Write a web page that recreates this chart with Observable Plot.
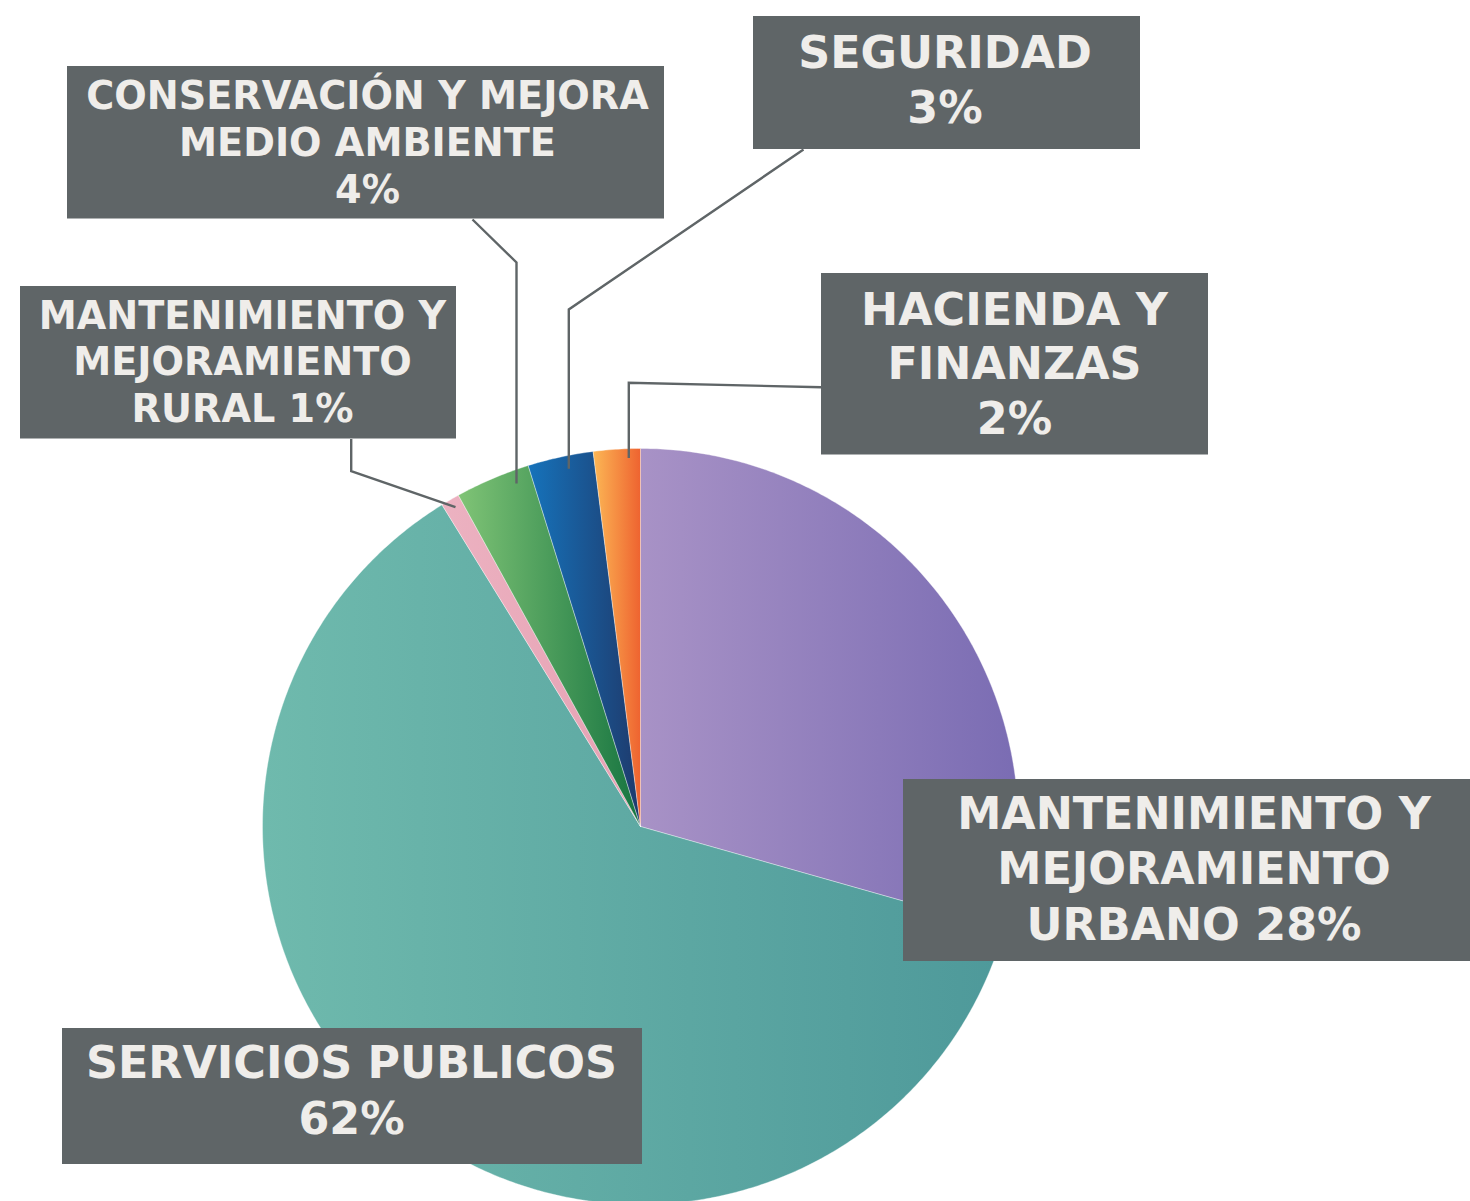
<!DOCTYPE html>
<html>
<head>
<meta charset="utf-8">
<script src="https://cdn.jsdelivr.net/npm/d3@7"></script>
<script src="https://cdn.jsdelivr.net/npm/@observablehq/plot@0.6"></script>
<style>
  html, body { margin: 0; padding: 0; background: #ffffff; overflow: hidden; }
  #chart svg { display: block; }
</style>
</head>
<body>
<div id="chart"></div>
<script>
// ---------- DATA ----------
const categories = [
  "MANTENIMIENTO Y MEJORAMIENTO URBANO",
  "SERVICIOS PUBLICOS",
  "MANTENIMIENTO Y MEJORAMIENTO RURAL",
  "CONSERVACIÓN Y MEJORA MEDIO AMBIENTE",
  "SEGURIDAD",
  "HACIENDA Y FINANZAS"
];
// share of the pie, clockwise from 12 o'clock
const shares = [29.4, 61.8, 0.8, 3.2, 2.8, 2.0];
// printed label text, line by line
const labelLines = [
  ["MANTENIMIENTO Y", "MEJORAMIENTO", "URBANO 28%"],
  ["SERVICIOS PUBLICOS", "62%"],
  ["MANTENIMIENTO Y", "MEJORAMIENTO", "RURAL 1%"],
  ["CONSERVACIÓN Y MEJORA", "MEDIO AMBIENTE", "4%"],
  ["SEGURIDAD", "3%"],
  ["HACIENDA Y", "FINANZAS", "2%"]
];

// ---------- STYLE / LAYOUT ----------
const W = 1470, H = 1201;
const pie = {cx: 640, cy: 826, r: 378};
const sliceGradients = [
  ["#a892c6", "#7a6cb3"],
  ["#6fbaad", "#4e999a"],
  ["#ecb2c1", "#e6a1b3"],
  ["#80c476", "#167440"],
  ["#1673bb", "#1e3a6c"],
  ["#fcb755", "#ee6330"]
];
const boxColor = "#5f6567";
const textColor = "#efedea";
const bigFont = 44.4, smallFont = 38.2;
const boxes = [
  {x1: 903, x2: 1470, y1: 779, y2: 961,  tx: 1193.5, base: 828,   lh: 55.5, size: bigFont},
  {x1: 62,  x2: 642,  y1: 1028, y2: 1164, tx: 351,   base: 1077.5, lh: 55.5, size: bigFont},
  {x1: 20,  x2: 456,  y1: 286, y2: 438.5, tx: 242,   base: 328,   lh: 46.8, size: smallFont},
  {x1: 67,  x2: 664,  y1: 66,  y2: 218.5, tx: 367,   base: 108.5, lh: 46.8, size: smallFont},
  {x1: 753, x2: 1140, y1: 16,  y2: 149,   tx: 944.5, base: 67,    lh: 55.5, size: bigFont},
  {x1: 821, x2: 1208, y1: 273, y2: 454.5, tx: 1014,  base: 324,   lh: 54.5, size: bigFont}
];
const leaders = [
  {i: 2, pts: [[350.7, 438.5], [350.7, 470.7], [455, 506.7]]},
  {i: 3, pts: [[472, 219], [516, 262], [516, 483]]},
  {i: 4, pts: [[803, 149], [568.3, 309], [568.3, 468.3]]},
  {i: 5, pts: [[821, 386.7], [628.3, 382.3], [628.3, 457.5]]}
];

// ---------- BUILD TABLES ----------
const arcs = d3.pie().sort(null).value(d => d)(shares);
const slicePts = [];
arcs.forEach((a, i) => {
  const key = categories[i], fill = `url(#slice-grad-${i})`;
  const n = Math.max(2, Math.ceil((a.endAngle - a.startAngle) / (Math.PI / 360)));
  slicePts.push({key, fill, x: pie.cx, y: pie.cy});
  for (let k = 0; k <= n; k++) {
    const t = a.startAngle + (a.endAngle - a.startAngle) * k / n;
    slicePts.push({key, fill, x: pie.cx + pie.r * Math.sin(t), y: pie.cy - pie.r * Math.cos(t)});
  }
  slicePts.push({key, fill, x: pie.cx, y: pie.cy});
});

const leaderPts = leaders.flatMap(l => l.pts.map(([x, y]) => ({key: categories[l.i], x, y})));
const boxRows = boxes.map((b, i) => ({...b, key: categories[i]}));
const textRows = labelLines.flatMap((lines, i) =>
  lines.map((t, j) => ({text: t, x: boxes[i].tx, y: boxes[i].base + j * boxes[i].lh, size: boxes[i].size}))
);

// ---------- PLOT ----------
const svg = Plot.plot({
  width: W,
  height: H,
  margin: 0,
  x: {domain: [0, W], range: [0, W], axis: null},
  y: {domain: [0, H], range: [0, H], axis: null},
  color: {type: "identity"},
  style: {background: "#ffffff"},
  marks: [
    Plot.line(slicePts, {
      x: "x", y: "y", z: "key", fill: "fill",
      stroke: "#ffffff", strokeWidth: 0.6, strokeOpacity: 0.6,
      strokeLinejoin: "round", curve: "linear"
    }),
    Plot.line(leaderPts, {
      x: "x", y: "y", z: "key", stroke: boxColor, strokeWidth: 2.4,
      strokeLinecap: "butt", strokeLinejoin: "miter", strokeMiterlimit: 4
    }),
    Plot.rect(boxRows, {x1: "x1", x2: "x2", y1: "y1", y2: "y2", fill: boxColor}),
    Plot.text(textRows, {
      x: "x", y: "y", text: "text", fontSize: "size",
      lineAnchor: "bottom", textAnchor: "middle",
      fill: textColor, fontWeight: "bold",
      fontFamily: "'DejaVu Sans', sans-serif"
    })
  ]
});

const defs = d3.select(svg).insert("defs", ":first-child");
sliceGradients.forEach(([a, b], i) => {
  const g = defs.append("linearGradient")
    .attr("id", `slice-grad-${i}`)
    .attr("x1", 0).attr("y1", 0).attr("x2", 1).attr("y2", 0);
  g.append("stop").attr("offset", 0).attr("stop-color", a);
  g.append("stop").attr("offset", 1).attr("stop-color", b);
});

document.getElementById("chart").appendChild(svg);
</script>
</body>
</html>
